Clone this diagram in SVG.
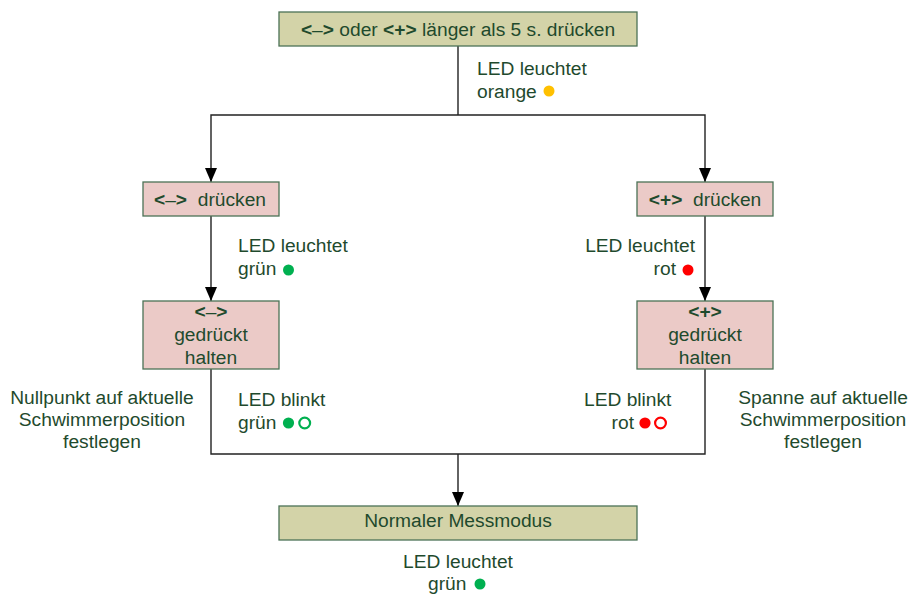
<svg xmlns="http://www.w3.org/2000/svg" width="912" height="594" viewBox="0 0 912 594">
<defs>
<style>
text{font-family:"Liberation Sans",Arial,sans-serif;font-size:19.2px;fill:#1f4a2d}
.c{text-anchor:middle}
.e{text-anchor:end}
.b{font-weight:bold}
.olive{fill:#d3d3a8;stroke:#4c7256;stroke-width:1.3}
.pink{fill:#ebcac7;stroke:#4c7256;stroke-width:1.3}
.ln{fill:none;stroke:#222;stroke-width:1.4}
.ring{fill:none;stroke-width:2.2}
.ah{fill:#000}
</style>
</defs>
<rect width="912" height="594" fill="#fff"/>
<g id="connectors">
<path class="ln" d="M458,46 V115"/>
<path class="ln" d="M211,182 V115 H705 V182"/>
<path class="ln" d="M211,216 V301"/>
<path class="ln" d="M705,216 V301"/>
<path class="ln" d="M211,369 V454 H705 V369"/>
<path class="ln" d="M458,454 V506"/>
<path class="ah" d="M205,168 L217,168 L211,182 Z"/>
<path class="ah" d="M699,168 L711,168 L705,182 Z"/>
<path class="ah" d="M205,287 L217,287 L211,301 Z"/>
<path class="ah" d="M699,287 L711,287 L705,301 Z"/>
<path class="ah" d="M452,492 L464,492 L458,506 Z"/>
</g>
<g id="start">
<rect class="olive" x="279" y="12" width="358" height="34"/>
<text class="c" x="458" y="36"><tspan class="b">&lt;</tspan>–<tspan class="b">&gt;</tspan> oder <tspan class="b">&lt;+&gt;</tspan> länger als 5 s. drücken</text>
</g>
<g id="led-orange">
<text x="477" y="75">LED leuchtet</text>
<text x="477" y="98">orange</text>
<circle cx="549" cy="91" r="5.5" fill="#ffc000"/>
</g>
<g id="minus-press">
<rect class="pink" x="143" y="182" width="136" height="34"/>
<text class="c" x="210" y="206" xml:space="preserve"><tspan class="b">&lt;</tspan>–<tspan class="b">&gt;</tspan>  drücken</text>
</g>
<g id="plus-press">
<rect class="pink" x="637" y="182" width="136" height="34"/>
<text class="c" x="705" y="206" xml:space="preserve"><tspan class="b">&lt;+&gt;</tspan>  drücken</text>
</g>
<g id="led-green">
<text x="238" y="252">LED leuchtet</text>
<text x="238" y="275">grün</text>
<circle cx="288.5" cy="270" r="5.5" fill="#00b050"/>
</g>
<g id="led-red">
<text class="e" x="695" y="252">LED leuchtet</text>
<text class="e" x="676" y="275">rot</text>
<circle cx="688" cy="270" r="5.5" fill="#ff0000"/>
</g>
<g id="minus-hold">
<rect class="pink" x="143" y="301" width="136" height="68"/>
<text class="c" x="211" y="318"><tspan class="b">&lt;</tspan>–<tspan class="b">&gt;</tspan></text>
<text class="c" x="211" y="341">gedrückt</text>
<text class="c" x="211" y="364">halten</text>
</g>
<g id="plus-hold">
<rect class="pink" x="637" y="301" width="136" height="68"/>
<text class="c b" x="705" y="318">&lt;+&gt;</text>
<text class="c" x="705" y="341">gedrückt</text>
<text class="c" x="705" y="364">halten</text>
</g>
<g id="blink-green">
<text x="238" y="406">LED blinkt</text>
<text x="238" y="429">grün</text>
<circle cx="288.5" cy="423" r="5.6" fill="#00b050"/>
<circle class="ring" cx="304.7" cy="423" r="5.4" stroke="#00b050"/>
</g>
<g id="blink-red">
<text x="584" y="406">LED blinkt</text>
<text class="e" x="634" y="429">rot</text>
<circle cx="645" cy="423" r="5.6" fill="#ff0000"/>
<circle class="ring" cx="660.5" cy="423" r="5.4" stroke="#ff0000"/>
</g>
<g id="note-zero">
<text class="c" x="102" y="404">Nullpunkt auf aktuelle</text>
<text class="c" x="102" y="426">Schwimmerposition</text>
<text class="c" x="102" y="448">festlegen</text>
</g>
<g id="note-span">
<text class="c" x="823" y="404">Spanne auf aktuelle</text>
<text class="c" x="823" y="426">Schwimmerposition</text>
<text class="c" x="823" y="448">festlegen</text>
</g>
<g id="normal">
<rect class="olive" x="279" y="506" width="358" height="34"/>
<text class="c" x="458" y="527">Normaler Messmodus</text>
</g>
<g id="led-green-bottom">
<text class="c" x="458" y="568">LED leuchtet</text>
<text x="428" y="590">grün</text>
<circle cx="480" cy="584" r="5.5" fill="#00b050"/>
</g>
</svg>
